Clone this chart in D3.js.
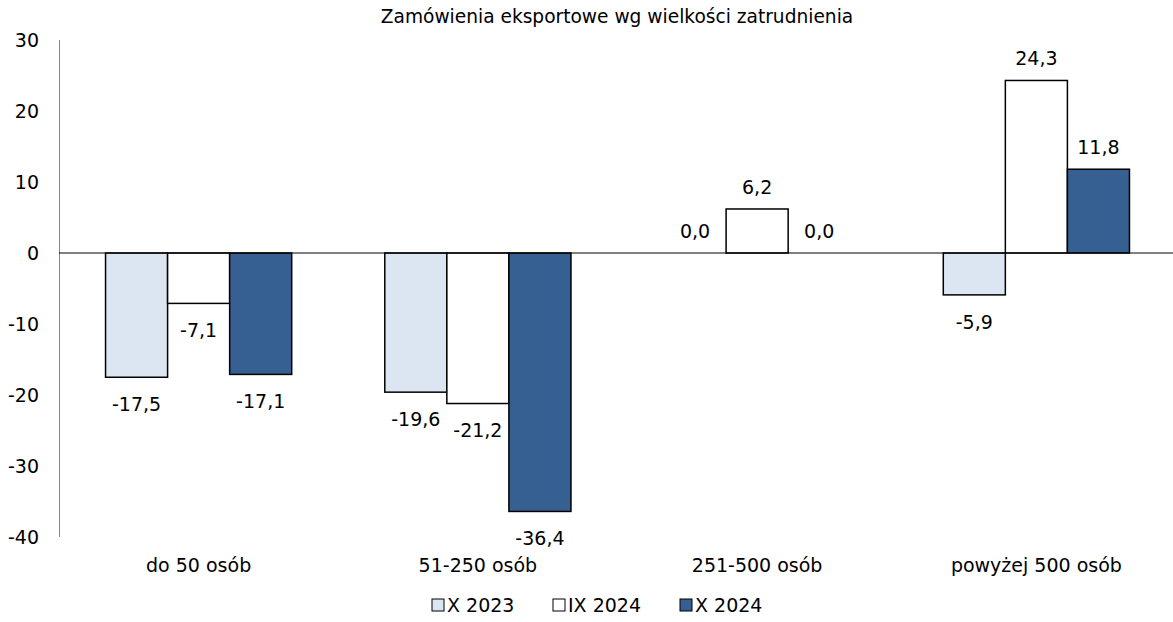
<!DOCTYPE html>
<html>
<head>
<meta charset="utf-8">
<script src="https://cdn.jsdelivr.net/npm/d3@7"></script>
<style>
  body { margin: 0; background: #fff; }
  text { font-family: "DejaVu Sans", sans-serif; fill: #000; }
</style>
</head>
<body>
<script>
const width = 1173;
const height = 622;

const categories = ['do 50 osób', '51-250 osób', '251-500 osób', 'powyżej 500 osób'];
const seriesNames = ['X 2023', 'IX 2024', 'X 2024'];
const seriesColors = ['#dce6f2', '#ffffff', '#366092'];
const valuesX2023 = [-17.5, -19.6, 0.0, -5.9];
const valuesIX2024 = [-7.1, -21.2, 6.2, 24.3];
const valuesX2024 = [-17.1, -36.4, 0.0, 11.8];
const yTicks = [30, 20, 10, 0, -10, -20, -30, -40];

const seriesValues = [valuesX2023, valuesIX2024, valuesX2024];

const svg = d3.select('body').append('svg')
  .attr('width', width)
  .attr('height', height);

const x0 = d3.scaleBand()
  .domain(categories)
  .range([59, 1176]);

const bw = x0.bandwidth();
const x1 = d3.scaleBand()
  .domain(seriesNames)
  .range([bw / 6, bw * 5 / 6]);

const y = d3.scaleLinear()
  .domain([-40, 30])
  .range([537, 40]);

const fmt = v => v.toFixed(1).replace('.', ',');

// title
svg.append('text')
  .attr('x', 617)
  .attr('y', 16)
  .attr('dy', '0.35em')
  .attr('text-anchor', 'middle')
  .style('font-size', '18.6px')
  .text('Zamówienia eksportowe wg wielkości zatrudnienia');

// y axis
svg.append('line')
  .attr('x1', 59.5).attr('x2', 59.5)
  .attr('y1', y(30)).attr('y2', y(-40))
  .attr('stroke', '#868686')
  .attr('stroke-width', 1);

svg.selectAll('.ytick')
  .data(yTicks)
  .enter().append('text')
  .attr('class', 'ytick')
  .attr('x', 39)
  .attr('y', d => y(d))
  .attr('dy', '0.35em')
  .attr('text-anchor', 'end')
  .style('font-size', '19px')
  .text(d => d);

// bars
const groups = svg.selectAll('.grp')
  .data(categories)
  .enter().append('g')
  .attr('class', 'grp')
  .attr('transform', d => `translate(${x0(d)},0)`);

groups.each(function(cat, ci) {
  const g = d3.select(this);
  const rows = seriesNames.map((s, si) => ({ s: s, si: si, v: seriesValues[si][ci] }));

  g.selectAll('rect')
    .data(rows.filter(d => d.v !== 0))
    .enter().append('rect')
    .attr('x', d => x1(d.s))
    .attr('y', d => Math.min(y(d.v), y(0)))
    .attr('width', x1.bandwidth())
    .attr('height', d => Math.abs(y(d.v) - y(0)))
    .attr('fill', d => seriesColors[d.si])
    .attr('stroke', '#000')
    .attr('stroke-width', 1.5);

  g.selectAll('.lbl')
    .data(rows)
    .enter().append('text')
    .attr('class', 'lbl')
    .attr('x', d => x1(d.s) + x1.bandwidth() / 2)
    .attr('y', d => d.v >= 0 ? y(d.v) - 22 : y(d.v) + 27)
    .attr('dy', '0.35em')
    .attr('text-anchor', 'middle')
    .style('font-size', '19px')
    .text(d => fmt(d.v));
});

// zero line
svg.append('line')
  .attr('x1', 59).attr('x2', width)
  .attr('y1', y(0)).attr('y2', y(0))
  .attr('stroke', '#000')
  .attr('stroke-width', 1);

// category labels
svg.selectAll('.cat')
  .data(categories)
  .enter().append('text')
  .attr('class', 'cat')
  .attr('x', d => x0(d) + bw / 2)
  .attr('y', 565)
  .attr('dy', '0.35em')
  .attr('text-anchor', 'middle')
  .style('font-size', '19px')
  .text(d => d);

// legend
const legendX = [432, 553, 680];
const legend = svg.selectAll('.leg')
  .data(seriesNames)
  .enter().append('g')
  .attr('class', 'leg')
  .attr('transform', (d, i) => `translate(${legendX[i]},605)`);

legend.append('rect')
  .attr('x', 0).attr('y', -6)
  .attr('width', 12).attr('height', 12)
  .attr('fill', (d, i) => seriesColors[i])
  .attr('stroke', '#000')
  .attr('stroke-width', 1);

legend.append('text')
  .attr('x', 15)
  .attr('y', 0)
  .attr('dy', '0.35em')
  .style('font-size', '19px')
  .text(d => d);
</script>
</body>
</html>
